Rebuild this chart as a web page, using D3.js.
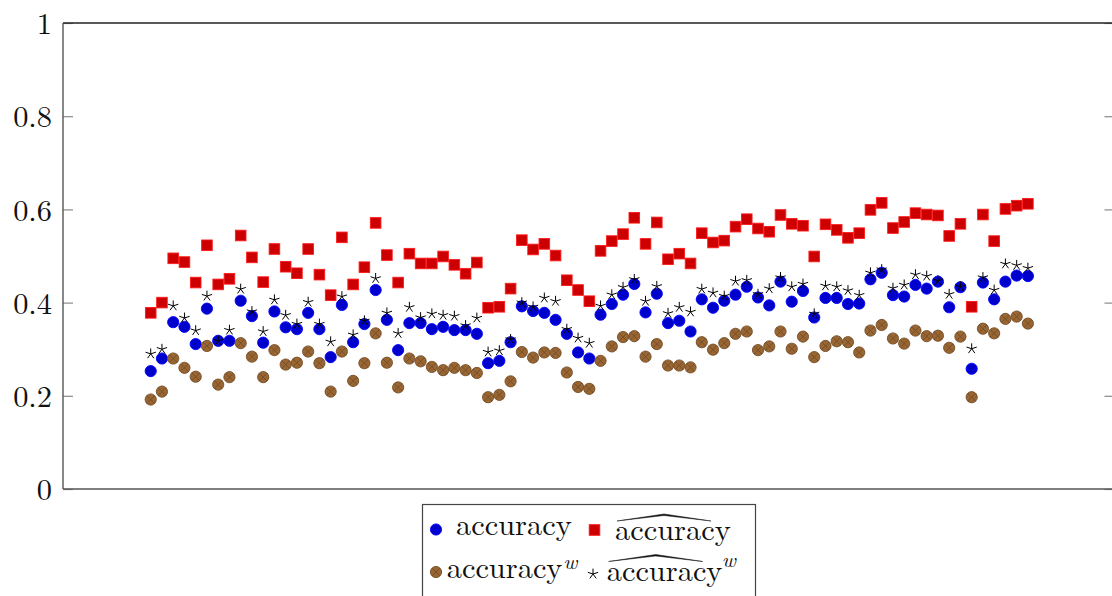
<!DOCTYPE html>
<html>
<head>
<meta charset="utf-8">
<script src="https://cdn.jsdelivr.net/npm/d3@7"></script>
<style>
  html, body { margin: 0; padding: 0; background: #fff; }
  svg { display: block; }
</style>
</head>
<body>
<svg id="chart" width="1112" height="596"></svg>
<script>
// accuracy per run (plain estimate)
const accuracy = [
  0.253, 0.280, 0.358, 0.348, 0.311, 0.387, 0.318, 0.318, 0.404, 0.371, 0.314, 0.381, 0.347, 0.343, 0.378, 0.343, 0.283, 0.395, 0.315, 0.354, 0.427,
  0.363, 0.298, 0.356, 0.356, 0.343, 0.348, 0.341, 0.341, 0.333, 0.270, 0.275, 0.315, 0.392, 0.382, 0.378, 0.363, 0.333, 0.293, 0.280, 0.374, 0.397,
  0.417, 0.440, 0.379, 0.419, 0.356, 0.361, 0.338, 0.407, 0.389, 0.404, 0.417, 0.434, 0.411, 0.394, 0.445, 0.402, 0.425, 0.368, 0.410, 0.410, 0.397, 0.398,
  0.450, 0.464, 0.416, 0.413, 0.438, 0.430, 0.445, 0.390, 0.433, 0.258, 0.443, 0.407, 0.445, 0.458, 0.457
];
// accuracy with hat (corrected estimate)
const accuracyHat = [
  0.378, 0.400, 0.495, 0.487, 0.443, 0.523, 0.439, 0.451, 0.544, 0.497, 0.444, 0.515, 0.477, 0.463, 0.515, 0.460, 0.416, 0.540, 0.439, 0.476, 0.571,
  0.502, 0.443, 0.505, 0.484, 0.484, 0.499, 0.481, 0.462, 0.486, 0.389, 0.391, 0.430, 0.534, 0.514, 0.526, 0.501, 0.448, 0.427, 0.403, 0.511, 0.532,
  0.547, 0.582, 0.526, 0.572, 0.493, 0.505, 0.484, 0.549, 0.529, 0.533, 0.563, 0.579, 0.559, 0.552, 0.588, 0.569, 0.565, 0.499, 0.568, 0.556, 0.539, 0.549,
  0.599, 0.614, 0.560, 0.573, 0.592, 0.589, 0.587, 0.543, 0.569, 0.391, 0.589, 0.532, 0.601, 0.608, 0.612
];
// weighted accuracy
const accuracyW = [
  0.192, 0.209, 0.280, 0.260, 0.241, 0.307, 0.224, 0.240, 0.313, 0.284, 0.240, 0.298, 0.267, 0.271, 0.295, 0.270, 0.209, 0.295, 0.232, 0.270, 0.334,
  0.271, 0.218, 0.280, 0.274, 0.262, 0.255, 0.260, 0.255, 0.249, 0.197, 0.202, 0.231, 0.294, 0.282, 0.293, 0.292, 0.250, 0.219, 0.215, 0.275, 0.306,
  0.326, 0.328, 0.284, 0.311, 0.265, 0.265, 0.261, 0.315, 0.299, 0.313, 0.333, 0.338, 0.298, 0.306, 0.338, 0.301, 0.327, 0.283, 0.307, 0.317, 0.315, 0.293,
  0.340, 0.352, 0.323, 0.312, 0.340, 0.328, 0.329, 0.303, 0.327, 0.197, 0.344, 0.334, 0.365, 0.370, 0.355
];
// weighted accuracy with hat
const accuracyHatW = [
  0.290, 0.300, 0.393, 0.367, 0.340, 0.414, 0.318, 0.341, 0.429, 0.381, 0.338, 0.406, 0.373, 0.354, 0.401, 0.354, 0.316, 0.413, 0.331, 0.361, 0.452,
  0.378, 0.334, 0.390, 0.368, 0.376, 0.373, 0.371, 0.351, 0.367, 0.294, 0.297, 0.321, 0.400, 0.391, 0.410, 0.403, 0.343, 0.324, 0.313, 0.393, 0.417,
  0.433, 0.450, 0.403, 0.435, 0.377, 0.390, 0.380, 0.429, 0.421, 0.414, 0.446, 0.448, 0.418, 0.430, 0.454, 0.434, 0.440, 0.376, 0.436, 0.434, 0.426, 0.416,
  0.464, 0.471, 0.431, 0.438, 0.460, 0.457, 0.447, 0.418, 0.434, 0.301, 0.454, 0.427, 0.483, 0.480, 0.474
];
const yTicks = [0, 0.2, 0.4, 0.6, 0.8, 1];
const yTickLabels = ["0", "0.2", "0.4", "0.6", "0.8", "1"];

const SERIF = '"Latin Modern Roman", "Liberation Serif", "DejaVu Serif"';
const FS = 30.4;
const svg = d3.select("#chart");
const plotLeft = 63, plotRight = 1114.5, plotTop = 23, plotBottom = 489;

const x = d3.scaleLinear().domain([-6.8, 86.7]).range([plotLeft, plotRight]);
const y = d3.scaleLinear().domain([0, 1]).range([plotBottom, plotTop]);
const idx = d => d.map((v, i) => ({ i: i + 1, v }));

// y axes: ticks point inward on both sides
const axL = svg.append("g").attr("transform", `translate(${plotLeft},0)`)
  .call(d3.axisLeft(y).tickValues(yTicks).tickSize(-10).tickPadding(11)
    .tickFormat((d, k) => yTickLabels[k]));
const axR = svg.append("g").attr("transform", `translate(${plotRight},0)`)
  .call(d3.axisRight(y).tickValues(yTicks).tickSize(-10).tickFormat(""));
[axL, axR].forEach(g => {
  g.select(".domain").remove();
  g.selectAll(".tick line").attr("stroke", "#8a8a8a").attr("stroke-width", 1.2);
});
axL.selectAll(".tick text")
  .attr("fill", "#111").attr("dy", "0.355em")
  .style("font-family", SERIF).style("font-size", FS + "px");

// frame
svg.append("line").attr("x1", plotLeft).attr("x2", plotRight).attr("y1", plotTop).attr("y2", plotTop)
  .attr("stroke", "#222").attr("stroke-width", 1.4);
svg.append("line").attr("x1", plotLeft).attr("x2", plotRight).attr("y1", plotBottom).attr("y2", plotBottom)
  .attr("stroke", "#555").attr("stroke-width", 1.4);
svg.append("line").attr("x1", plotLeft).attr("x2", plotLeft).attr("y1", plotTop).attr("y2", plotBottom)
  .attr("stroke", "#555").attr("stroke-width", 1.4);
svg.append("line").attr("x1", plotRight).attr("x2", plotRight).attr("y1", plotTop).attr("y2", plotBottom)
  .attr("stroke", "#555").attr("stroke-width", 1.4);

// marker painters
function circleMark(g, cx, cy) {
  g.append("circle").attr("cx", cx).attr("cy", cy).attr("r", 5.6)
    .attr("fill", "#0000cc").attr("stroke", "#0000ff").attr("stroke-width", 0.9);
}
function squareMark(g, cx, cy) {
  const s = 10.6;
  g.append("rect").attr("x", cx - s / 2).attr("y", cy - s / 2).attr("width", s).attr("height", s)
    .attr("fill", "#cc0000").attr("stroke", "#ff1a1a").attr("stroke-width", 0.9);
}
function otimesMark(g, cx, cy) {
  const r = 5.6, d = r * Math.SQRT1_2;
  g.append("circle").attr("cx", cx).attr("cy", cy).attr("r", r)
    .attr("fill", "#996633").attr("stroke", "#734d26").attr("stroke-width", 0.9);
  g.append("path")
    .attr("d", `M${cx - d},${cy - d}L${cx + d},${cy + d}M${cx - d},${cy + d}L${cx + d},${cy - d}`)
    .attr("stroke", "#734d26").attr("stroke-width", 0.9).attr("fill", "none");
}
function starMark(g, cx, cy) {
  const r = 5.4;
  let p = "";
  for (let k = 0; k < 5; k++) {
    const a = -Math.PI / 2 + k * 2 * Math.PI / 5;
    p += `M${cx},${cy}L${cx + r * Math.cos(a)},${cy + r * Math.sin(a)}`;
  }
  g.append("path").attr("d", p).attr("stroke", "#000").attr("stroke-width", 1).attr("fill", "none");
}

const series = [
  { data: accuracy, mark: circleMark },
  { data: accuracyHat, mark: squareMark },
  { data: accuracyW, mark: otimesMark },
  { data: accuracyHatW, mark: starMark }
];
series.forEach(s => {
  const g = svg.append("g");
  idx(s.data).forEach(d => s.mark(g, x(d.i), y(d.v)));
});

// legend
const lg = svg.append("g");
lg.append("rect").attr("x", 422.5).attr("y", 504.5).attr("width", 333).attr("height", 110)
  .attr("fill", "#fff").attr("stroke", "#444").attr("stroke-width", 1.2);

function label(g, tx, base, hat, sup, supDx, supBase) {
  g.append("text").attr("x", tx).attr("y", base).attr("fill", "#111")
    .style("font-family", SERIF).style("font-size", FS + "px").text("accuracy");
  if (hat) {
    const x0 = tx + 2, x1 = tx + 96, xm = (x0 + x1) / 2, yb = base - 19, yt = base - 26;
    g.append("path")
      .attr("d", `M${x0},${yb}L${xm},${yt}L${x1},${yb}L${xm},${yt + 1.5}Z`)
      .attr("fill", "#111").attr("stroke", "#111").attr("stroke-width", 0.5);
  }
  if (sup) {
    g.append("text").attr("x", tx + supDx).attr("y", supBase).attr("fill", "#111")
      .style("font-family", SERIF).style("font-size", "21.3px").style("font-style", "italic").text("w");
  }
}
circleMark(lg, 436, 529.5);
label(lg, 456, 534.5, false, false);
squareMark(lg, 594.5, 530);
label(lg, 615, 540, true, false);
otimesMark(lg, 436, 572);
label(lg, 446.7, 578, false, true, 116.5, 569);
starMark(lg, 593, 574);
label(lg, 606.7, 580.5, true, true, 115, 566.5);
</script>
</body>
</html>
